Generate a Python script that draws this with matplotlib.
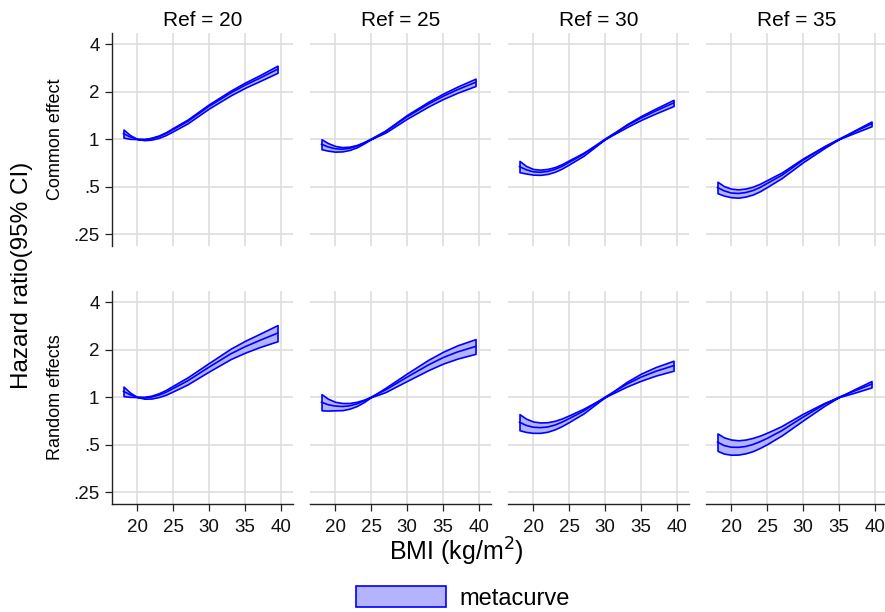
import matplotlib
matplotlib.use("Agg")
import matplotlib.pyplot as plt
from matplotlib.patches import Patch
from matplotlib.ticker import NullLocator

plt.rcParams['font.family'] = ['Liberation Sans', 'DejaVu Sans']

# BMI grid the curves were read at
bmi = [18.1, 19, 20, 21, 22, 23, 24, 25, 26, 27, 30, 33, 35, 37, 39.5]
refs = [20, 25, 30, 35]
row_names = ['Common effect', 'Random effects']
yticks = [0.25, 0.5, 1, 2, 4]
ytick_labels = ['.25', '.5', '1', '2', '4']
xticks = [20, 25, 30, 35, 40]

# common effect: hazard ratio and 95% CI, one set per reference BMI
ce20_mid = [1.083, 1.032, 1.000, 0.992, 1.006, 1.035, 1.083, 1.149, 1.218, 1.292, 1.613, 1.959, 2.196, 2.428, 2.770]
ce20_lo = [1.021, 1.003, 1.000, 0.984, 0.992, 1.017, 1.061, 1.121, 1.187, 1.257, 1.564, 1.892, 2.114, 2.326, 2.630]
ce20_hi = [1.149, 1.061, 1.000, 1.000, 1.020, 1.053, 1.106, 1.177, 1.251, 1.329, 1.664, 2.028, 2.282, 2.535, 2.918]

ce25_mid = [0.927, 0.892, 0.868, 0.862, 0.874, 0.901, 0.946, 1.000, 1.057, 1.117, 1.385, 1.670, 1.866, 2.056, 2.289]
ce25_lo = [0.862, 0.844, 0.832, 0.835, 0.853, 0.886, 0.938, 1.000, 1.048, 1.100, 1.347, 1.613, 1.794, 1.966, 2.170]
ce25_hi = [0.997, 0.943, 0.904, 0.889, 0.895, 0.917, 0.955, 1.000, 1.066, 1.134, 1.424, 1.729, 1.941, 2.151, 2.415]

ce30_mid = [0.669, 0.640, 0.620, 0.616, 0.623, 0.642, 0.671, 0.712, 0.755, 0.801, 1.000, 1.214, 1.361, 1.505, 1.693]
ce30_lo = [0.616, 0.605, 0.595, 0.593, 0.601, 0.620, 0.650, 0.691, 0.736, 0.783, 1.000, 1.189, 1.322, 1.452, 1.619]
ce30_hi = [0.727, 0.676, 0.646, 0.640, 0.647, 0.664, 0.694, 0.734, 0.775, 0.820, 1.000, 1.240, 1.401, 1.560, 1.772]

ce35_mid = [0.493, 0.470, 0.455, 0.452, 0.458, 0.471, 0.493, 0.523, 0.555, 0.588, 0.735, 0.892, 1.000, 1.106, 1.248]
ce35_lo = [0.454, 0.438, 0.428, 0.425, 0.432, 0.445, 0.467, 0.497, 0.530, 0.565, 0.714, 0.880, 1.000, 1.087, 1.206]
ce35_hi = [0.536, 0.503, 0.485, 0.480, 0.486, 0.499, 0.521, 0.550, 0.581, 0.613, 0.755, 0.904, 1.000, 1.125, 1.292]

# random effects
re20_mid = [1.087, 1.035, 1.000, 0.990, 1.000, 1.028, 1.072, 1.133, 1.197, 1.266, 1.548, 1.879, 2.085, 2.282, 2.540]
re20_lo = [1.014, 1.003, 1.000, 0.976, 0.979, 1.000, 1.035, 1.087, 1.142, 1.202, 1.454, 1.741, 1.912, 2.071, 2.258]
re20_hi = [1.165, 1.068, 1.000, 1.003, 1.021, 1.057, 1.110, 1.181, 1.255, 1.333, 1.647, 2.028, 2.274, 2.514, 2.858]

re25_mid = [0.927, 0.895, 0.877, 0.871, 0.880, 0.904, 0.946, 1.000, 1.053, 1.110, 1.338, 1.602, 1.778, 1.932, 2.092]
re25_lo = [0.824, 0.821, 0.824, 0.826, 0.844, 0.877, 0.930, 1.000, 1.035, 1.076, 1.266, 1.485, 1.630, 1.753, 1.879]
re25_hi = [1.043, 0.976, 0.933, 0.917, 0.917, 0.933, 0.963, 1.000, 1.072, 1.145, 1.414, 1.729, 1.938, 2.129, 2.329]

re30_mid = [0.693, 0.662, 0.644, 0.640, 0.646, 0.664, 0.693, 0.730, 0.771, 0.815, 1.000, 1.206, 1.338, 1.454, 1.580]
re30_lo = [0.616, 0.601, 0.593, 0.593, 0.603, 0.624, 0.655, 0.695, 0.740, 0.787, 1.000, 1.165, 1.270, 1.366, 1.469]
re30_hi = [0.779, 0.730, 0.700, 0.690, 0.693, 0.707, 0.732, 0.766, 0.804, 0.844, 1.000, 1.248, 1.409, 1.548, 1.699]

re35_mid = [0.518, 0.493, 0.481, 0.480, 0.486, 0.500, 0.521, 0.547, 0.578, 0.611, 0.747, 0.901, 1.000, 1.087, 1.206]
re35_lo = [0.456, 0.438, 0.431, 0.432, 0.440, 0.454, 0.476, 0.503, 0.536, 0.570, 0.712, 0.883, 1.000, 1.061, 1.151]
re35_hi = [0.588, 0.555, 0.538, 0.532, 0.538, 0.551, 0.570, 0.595, 0.624, 0.655, 0.785, 0.920, 1.000, 1.113, 1.263]

panels = [
    [(ce20_mid, ce20_lo, ce20_hi), (ce25_mid, ce25_lo, ce25_hi),
     (ce30_mid, ce30_lo, ce30_hi), (ce35_mid, ce35_lo, ce35_hi)],
    [(re20_mid, re20_lo, re20_hi), (re25_mid, re25_lo, re25_hi),
     (re30_mid, re30_lo, re30_hi), (re35_mid, re35_lo, re35_hi)],
]

BLUE = '#0000ff'
FILL = '#b3b3ff'
GRID = '#dedede'

W, H = 885, 612
fig = plt.figure(figsize=(W / 100, H / 100), dpi=100)

col_left = [112, 310, 508, 706]
row_top = [33, 291]
pw, ph = 181, 213

for r in range(2):
    for c in range(4):
        ax = fig.add_axes([col_left[c] / W, 1 - (row_top[r] + ph) / H, pw / W, ph / H])
        mid, lo, hi = panels[r][c]
        ax.fill_between(bmi, lo, hi, facecolor=FILL, edgecolor=BLUE, lw=1.2, zorder=3)
        ax.plot(bmi, mid, color=BLUE, lw=1.2, zorder=4)

        ax.set_yscale('log')
        ax.set_ylim(0.21, 4.7)
        ax.set_xlim(16.5, 41.65)
        ax.set_yticks(yticks)
        ax.set_yticklabels(ytick_labels)
        ax.yaxis.set_minor_locator(NullLocator())
        ax.set_xticks(xticks)
        ax.grid(True, color=GRID, lw=1.2)
        ax.set_axisbelow(True)

        for s in ['top', 'right']:
            ax.spines[s].set_visible(False)
        ax.spines['left'].set_visible(c == 0)
        ax.spines['bottom'].set_visible(r == 1)
        for s in ['left', 'bottom']:
            ax.spines[s].set_color('#222222')
            ax.spines[s].set_linewidth(1.0)

        ax.tick_params(length=5, width=0.9, color='#222222', labelsize=13.5,
                       pad=4, labelcolor='#111111')
        ax.tick_params(axis='x', pad=6)
        if c > 0:
            ax.tick_params(axis='y', left=False, labelleft=False)
        if r == 0:
            ax.tick_params(axis='x', bottom=False, labelbottom=False)
            ax.set_title('Ref = %d' % refs[c], fontsize=15, pad=5)

for r in range(2):
    yc = 1 - (row_top[r] + ph / 2) / H
    fig.text(55 / W, yc, row_names[r], rotation=90, ha='center', va='center', fontsize=13)

fig.text(22 / W, 1 - 275 / H, 'Hazard ratio(95% CI)', rotation=90,
         ha='center', va='center', fontsize=17.5)
fig.text(456 / W, 1 - 552 / H, 'BMI (kg/m$^2$)', ha='center', va='center', fontsize=18)

handle = Patch(facecolor=FILL, edgecolor=BLUE, lw=1.2)
fig.legend(handles=[handle], labels=['metacurve'], loc='center',
           bbox_to_anchor=(463 / W, 1 - 598 / H), frameon=False, fontsize=17,
           handlelength=3.8, handleheight=0.95, handletextpad=0.55)

fig.savefig('out.png', dpi=100)
